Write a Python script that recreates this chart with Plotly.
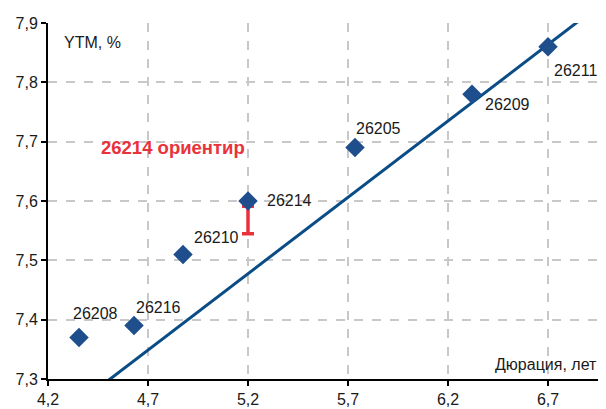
import plotly.graph_objects as go

bond_names = ["26208", "26216", "26210", "26214", "26205", "26209", "26211"]
duration = [4.355, 4.63, 4.875, 5.2, 5.735, 6.32, 6.70]
ytm = [7.37, 7.39, 7.51, 7.60, 7.69, 7.78, 7.86]

trend_x = [4.2, 7.0]
trend_y = [7.220, 7.941]

guide_x = [5.2]
guide_y = [7.568]
guide_err = [0.023]

x_ticks = [4.2, 4.7, 5.2, 5.7, 6.2, 6.7]
y_ticks = [7.3, 7.4, 7.5, 7.6, 7.7, 7.8, 7.9]

# label offsets (pixels): xshift, yshift, xanchor
label_style = [
    (-8, 24, "left"),
    (0, 18, "left"),
    (9, 17, "left"),
    (17, 1, "left"),
    (-1, 19, "left"),
    (11, -10, "left"),
    (4, -24, "left"),
]

navy = "#1F4E8C"
line_col = "#0A4C86"
red = "#E8323C"
font = "Liberation Sans"

fig = go.Figure()
fig.add_trace(go.Scatter(x=trend_x, y=trend_y, mode="lines",
                         line=dict(color=line_col, width=3), hoverinfo="skip"))
fig.add_trace(go.Scatter(x=guide_x, y=guide_y, mode="markers",
                         marker=dict(size=1, color="rgba(0,0,0,0)"),
                         error_y=dict(type="data", array=guide_err, visible=True,
                                      color=red, thickness=3.5, width=6)))
fig.add_trace(go.Scatter(x=duration, y=ytm, mode="markers",
                         marker=dict(symbol="diamond", size=15, color=navy,
                                     line=dict(width=0))))

for name, xv, yv, (dx, dy, anc) in zip(bond_names, duration, ytm, label_style):
    fig.add_annotation(x=xv, y=yv, text=name, showarrow=False, xanchor=anc,
                       yanchor="middle", xshift=dx, yshift=dy,
                       font=dict(family=font, size=16, color="#1a1a1a"))

fig.add_annotation(x=4.825, y=7.69, text="<b>26214 ориентир</b>", showarrow=False,
                   xanchor="center", yanchor="middle",
                   font=dict(family=font, size=18.5, color=red))
fig.add_annotation(xref="paper", yref="paper", x=0.025, y=0.945, text="YTM, %",
                   showarrow=False, xanchor="left", yanchor="middle",
                   font=dict(family=font, size=16, color="#1a1a1a"))
fig.add_annotation(xref="paper", yref="paper", x=0.988, y=0.042, text="Дюрация, лет",
                   showarrow=False, xanchor="right", yanchor="middle",
                   font=dict(family=font, size=16, color="#1a1a1a"))

fig.update_layout(
    width=598, height=401,
    margin=dict(l=40, r=0, t=15, b=30),
    paper_bgcolor="white", plot_bgcolor="white",
    showlegend=False,
    separators=", ",
    font=dict(family=font, size=16, color="#1a1a1a"),
    xaxis=dict(range=[4.2, 6.99], tickvals=x_ticks,
               ticktext=[f"{v:.1f}".replace(".", ",") for v in x_ticks],
               showgrid=True, gridcolor="#C8C8C8", griddash="dash", gridwidth=1.5,
               showline=True, linecolor="black", linewidth=2,
               ticks="outside", ticklen=5, tickwidth=2, tickcolor="black",
               zeroline=False, fixedrange=True),
    yaxis=dict(range=[7.3, 7.9], tickvals=y_ticks,
               ticktext=[f"{v:.1f}".replace(".", ",") for v in y_ticks],
               showgrid=True, gridcolor="#C8C8C8", griddash="dash", gridwidth=1.5,
               showline=True, linecolor="black", linewidth=2,
               ticks="outside", ticklen=5, tickwidth=2, tickcolor="black",
               zeroline=False, fixedrange=True),
)

fig.write_html("out.html", config={"displayModeBar": False})
